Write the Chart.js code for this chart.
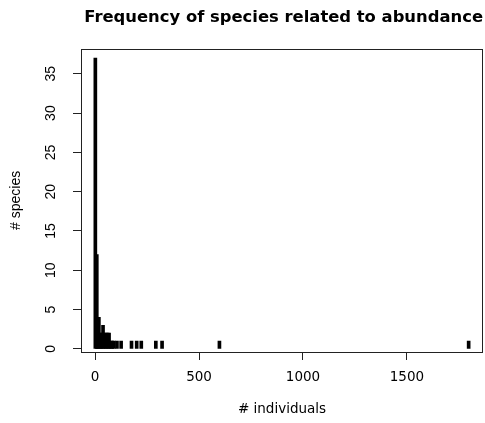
<!DOCTYPE html>
<html>
<head>
<meta charset="utf-8">
<title>Frequency of species related to abundance</title>
<script src="https://cdn.jsdelivr.net/npm/chart.js@4/dist/chart.umd.min.js"></script>
<style>
  html, body { margin: 0; padding: 0; background: #fff; }
  canvas { display: block; }
</style>
</head>
<body>
<canvas id="abundance-chart" width="485" height="423"></canvas>
<script>
// number of individuals per species (x) and how many species have that count (y)
const abundance = [1, 8, 12, 18, 26, 30, 38, 45, 52, 60, 67, 75, 82, 90, 105, 125, 175, 200, 222, 292, 322, 598, 1797];
const speciesCount = [37, 12, 4, 4, 2, 2, 3, 2, 2, 2, 2, 1, 1, 1, 1, 1, 1, 1, 1, 1, 1, 1, 1];

const xTicks = [0, 500, 1000, 1500];
const yTicks = [0, 5, 10, 15, 20, 25, 30, 35];

const axisColor = '#222';

// full frame around the plot region
const frameBox = {
    id: 'frameBox',
    afterDraw(chart) {
        const { ctx, chartArea: a } = chart;
        ctx.save();
        ctx.strokeStyle = axisColor;
        ctx.lineWidth = 1;
        ctx.strokeRect(Math.round(a.left) + 0.5, Math.round(a.top) + 0.5,
            Math.round(a.right - a.left) - 1, Math.round(a.bottom - a.top));
        ctx.restore();
    }
};

const chart = new Chart(document.getElementById('abundance-chart'), {
    type: 'bar',
    data: {
        datasets: [{
            data: abundance.map((a, i) => ({ x: a, y: speciesCount[i] })),
            backgroundColor: '#000',
            borderWidth: 0,
            barThickness: 3,
            grouped: false
        }]
    },
    options: {
        responsive: false,
        animation: false,
        layout: { padding: { left: 0, right: 2, top: 0, bottom: 0 } },
        plugins: {
            legend: { display: false },
            tooltip: { enabled: false },
            title: {
                display: true,
                text: 'Frequency of species related to abundance',
                align: 'end',
                color: '#000',
                font: { family: 'DejaVu Sans', size: 16.4, weight: 'bold' },
                padding: { top: 8, bottom: 21 }
            }
        },
        scales: {
            x: {
                type: 'linear',
                offset: false,
                min: -68,
                max: 1866,
                afterFit: (scale) => { scale.height = 71; },
                afterBuildTicks: (scale) => { scale.ticks = xTicks.map(v => ({ value: v })); },
                border: { display: false },
                grid: {
                    offset: false,
                    drawOnChartArea: false,
                    drawTicks: true,
                    tickLength: 8,
                    color: axisColor
                },
                ticks: {
                    color: '#000',
                    padding: 9,
                    maxRotation: 0,
                    autoSkip: false,
                    callback: (v) => String(v),
                    font: { family: 'DejaVu Sans', size: 13.5 }
                },
                title: {
                    display: true,
                    text: '# individuals',
                    color: '#000',
                    font: { family: 'DejaVu Sans', size: 13.5 },
                    padding: { top: 0, bottom: 5 }
                }
            },
            y: {
                type: 'linear',
                min: -0.4,
                max: 38.2,
                afterFit: (scale) => { scale.width = 81; },
                afterBuildTicks: (scale) => { scale.ticks = yTicks.map(v => ({ value: v })); },
                border: { display: false },
                grid: {
                    drawOnChartArea: false,
                    drawTicks: true,
                    tickLength: 8,
                    color: axisColor
                },
                ticks: {
                    color: '#000',
                    padding: 14,
                    minRotation: 90,
                    maxRotation: 90,
                    crossAlign: 'center',
                    autoSkip: false,
                    font: { family: 'Liberation Sans', size: 14 }
                },
                title: {
                    display: true,
                    text: '# species',
                    color: '#000',
                    font: { family: 'Liberation Sans', size: 14 },
                    padding: { top: 7.6, bottom: 0 }
                }
            }
        }
    },
    plugins: [frameBox]
});
</script>
</body>
</html>
